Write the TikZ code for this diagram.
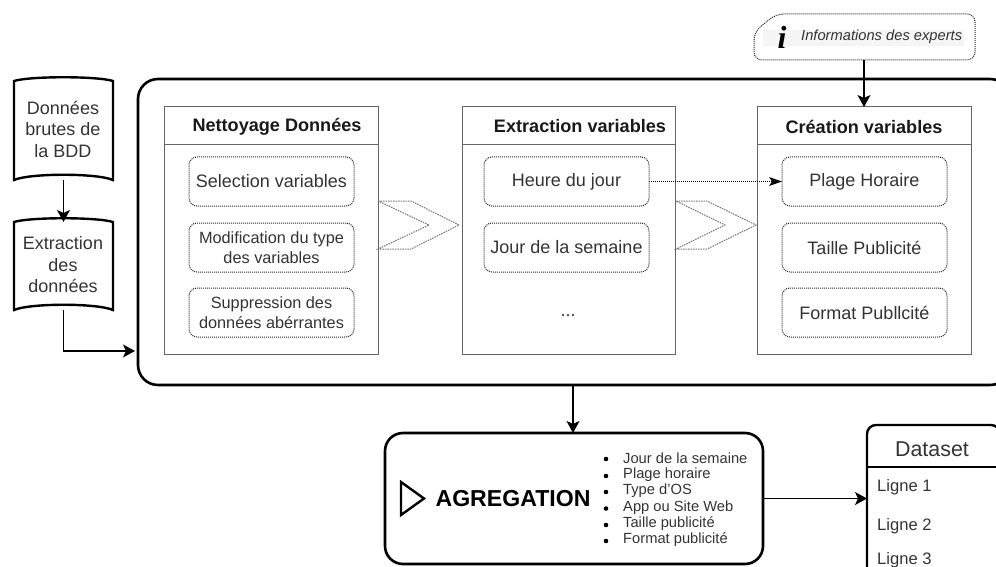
\documentclass[tikz,border=0pt]{standalone}
\usepackage{fontspec}
\setmainfont{Liberation Sans}
\newfontfamily\serifi{Liberation Serif}
\usetikzlibrary{arrows.meta,calc}
\definecolor{txt}{HTML}{333333}
\tikzset{
 x=1pt,y=-1pt,
 box/.style 2 args={anchor=north west,minimum width=#1,minimum height=#2,inner sep=0pt,outer sep=0pt},
 arrow/.style={draw=black,line width=1.3pt,-{Stealth[length=12pt,width=13pt,inset=3pt]}},
 docshape/.style={draw=black,line width=2.4pt},
 panel/.style={draw=black!60,line width=1pt},
 itemb/.style={draw=black!85,line width=1pt,dash pattern=on 1pt off 1pt,rounded corners=8pt,align=center,text=txt,font=\fontsize{18}{22}\selectfont},
 chev/.style={draw=black!55,line width=1pt,dash pattern=on 1.5pt off 1pt},
 phead/.style={font=\bfseries\fontsize{18.1}{22}\selectfont,text=black!90},
 lab/.style={text=txt,align=center,font=\fontsize{18}{21.5}\selectfont},
 li/.style={anchor=west,inner sep=0pt,text=txt,font=\fontsize{14.7}{16}\selectfont},
 dot/.style={circle,fill=black,inner sep=0pt,minimum size=4.6pt},
 ligne/.style={anchor=west,inner sep=0pt,text=txt,font=\fontsize{16.6}{20}\selectfont},
}
\begin{document}
\begin{tikzpicture}
\useasboundingbox (0,0) rectangle (996,567);
\clip (0,0) rectangle (996,567);
% main container
\node[box={872pt}{306pt},draw=black,line width=2.6pt,rounded corners=20pt] (main) at (138,79) {};
% source documents
\node[box={99pt}{99pt}] (d1) at (14,81) {};
\draw[docshape] (d1.south west) -- (d1.north west) .. controls (30,76) and (97,76) .. (d1.north east) -- (d1.south east) .. controls (97,173) and (30,173) .. (d1.south west) -- cycle;
\node[lab] (t1) at (63,129) {Données\\brutes de\\la BDD};
\node[box={99pt}{88pt}] (d2) at (14,222) {};
\draw[docshape] (d2.south west) -- (d2.north west) .. controls (30,217) and (97,217) .. (d2.north east) -- (d2.south east) .. controls (97,303) and (30,303) .. (d2.south west) -- cycle;
\node[lab] (t2) at (63,265) {Extraction\\des\\données};
\draw[arrow] (d1.south) -- (d2.north);
\coordinate (mainin) at (135,351);
\draw[arrow] (d2.south) |- (mainin);
% panels
\foreach \n/\x/\w/\title/\tx in {p1/164/214/Nettoyage Données/277,p2/462/213/Extraction variables/580,p3/757/214/Création variables/864}{
 \node[box={\w pt}{247pt},panel,draw] (\n) at (\x,107) {};
 \draw[panel] (\x,145) -- ++(\w,0);
 \node[phead] (\n t) at (\tx,126.5) {\title};
}
% items
\node[box={165pt}{49pt},itemb,draw] (a1) at (189,157) {Selection variables};
\node[box={165pt}{49pt},itemb,draw,font=\fontsize{16.3}{19.5}\selectfont] (a2) at (189,223) {Modification du type\\des variables};
\node[box={165pt}{49pt},itemb,draw,font=\fontsize{16.3}{20.5}\selectfont] (a3) at (189,288) {Suppression des\\données abérrantes};
\node[box={165pt}{49pt},itemb,draw] (b1) at (484,157) {Heure du jour};
\node[box={165pt}{49pt},itemb,draw] (b2) at (484,223) {Jour de la semaine};
\node[text=txt,font=\fontsize{18}{22}\selectfont] (b3) at (568,316) {...};
\node[box={165pt}{49pt},itemb,draw] (c1) at (782,157) {Plage Horaire};
\node[box={165pt}{49pt},itemb,draw] (c2) at (782,223) {Taille Publicité};
\node[box={165pt}{49pt},itemb,draw] (c3) at (782,288) {Format Publlcité};
\draw[draw=black,line width=1pt,dash pattern=on 1pt off 1pt] (b1.east) -- ($(c1.west)+(-9,0)$);
\fill (c1.west) -- ++(-13,-4.5) -- ++(3,4.5) -- ++(-3,4.5) -- cycle;
% chevrons
\draw[chev] (378,201) -- (411,201) -- (459,225) -- (411,249) -- (378,249) -- (429,225) -- cycle;
\draw[chev] (676,201) -- (707,201) -- (756,225) -- (707,249) -- (676,249) -- (725,225) -- cycle;
% experts
\draw[draw=black!85,line width=1pt,dash pattern=on 1pt off 1pt,rounded corners=8pt,fill=white] (754,60) -- (754,32) -- (776,14) -- (975,14) -- (975,60) -- cycle;
\fill[black!4] (763,30) rectangle (964,46);
\node[box={221pt}{46pt}] (info) at (754,14) {};
\node[inner sep=0pt,font=\serifi\bfseries\itshape\fontsize{32}{32}\selectfont] (ii) at (782,37) {i};
\node[inner sep=0pt,anchor=west,text=txt,font=\itshape\fontsize{14.7}{16}\selectfont] (it) at (801,37) {Informations des experts};
\draw[arrow] (info.south -| p3.north) -- (p3.north);
% aggregation
\node[box={378pt}{131pt},draw=black,line width=2.6pt,rounded corners=18pt] (agg) at (385,433) {};
\coordinate (mainout) at (573,385);
\draw[arrow] (mainout) -- (mainout |- agg.north);
\draw[draw=black,line width=2.4pt,line join=miter] (401,482) -- (424,498.5) -- (401,515) -- cycle;
\node[inner sep=0pt,text=black,font=\bfseries\fontsize{23.1}{26}\selectfont] (aggt) at (513,499) {AGREGATION};
\foreach \y/\ty/\t in {459/458/Jour de la semaine,476/475/Plage horaire,492/491/Type d'OS,508.5/508/App ou Site Web,525/524/Taille publicité,541/540/Format publicité}{
 \node[dot] at (606,\y) {};
 \node[li] at (623,\ty) {\t};
}
% dataset
\node[box={133pt}{170pt},draw=black,line width=2.4pt,rounded corners=9pt] (ds) at (867,425) {};
\draw[draw=black,line width=2.4pt] (867,467) -- (1000,467);
\node[text=txt,inner sep=0pt,font=\fontsize{21.4}{24}\selectfont] (dst) at (932,449) {Dataset};
\node[ligne] (l1) at (877,487) {Ligne 1};
\node[ligne] (l2) at (877,526) {Ligne 2};
\node[ligne] (l3) at (877,560) {Ligne 3};
\draw[arrow] (agg.east) -- (agg.east -| ds.west);
\end{tikzpicture}
\end{document}
